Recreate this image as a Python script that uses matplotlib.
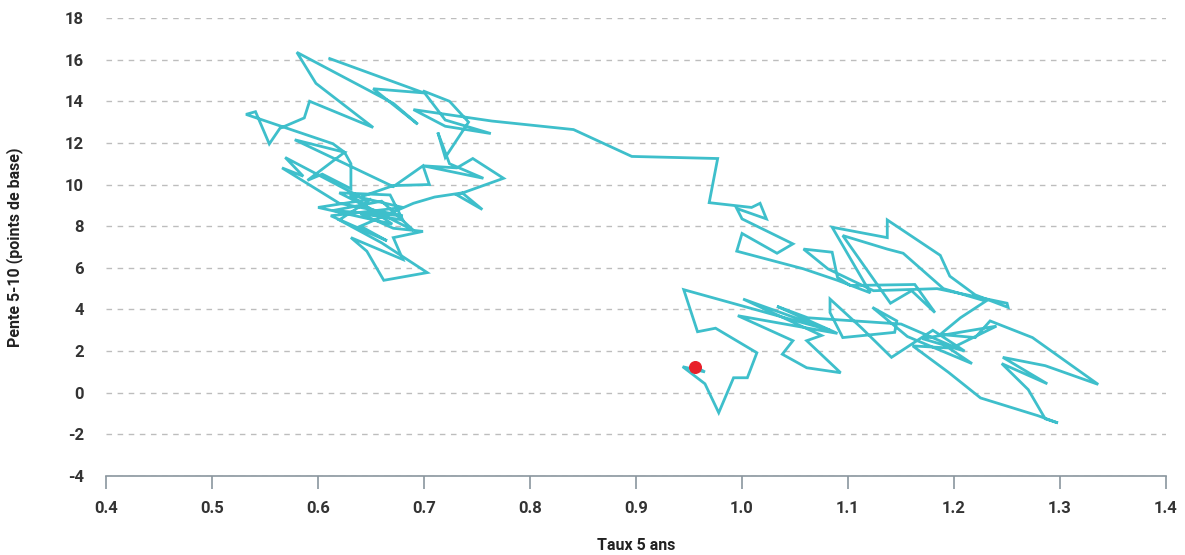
import matplotlib.pyplot as plt

# Taux 5 ans (x) / Pente 5-10 en points de base (y), trajectoire
taux_5a = [
    0.611, 0.700, 0.652, 0.694, 0.671, 0.580, 0.598, 0.652, 0.592, 0.587,
    0.564, 0.554, 0.541, 0.532, 0.614, 0.625, 0.631, 0.631, 0.604, 0.590,
    0.625, 0.578, 0.671, 0.699, 0.705, 0.671, 0.640, 0.569, 0.586, 0.566,
    0.620, 0.680, 0.614, 0.660, 0.690, 0.620, 0.668, 0.680, 0.640, 0.671,
    0.699, 0.671, 0.680, 0.631, 0.646, 0.662, 0.703, 0.660, 0.620, 0.650,
    0.600, 0.670, 0.630, 0.680, 0.612, 0.665, 0.640, 0.690,
    0.710, 0.736, 0.755, 0.731, 0.775, 0.746, 0.731, 0.699, 0.756, 0.724,
    0.713, 0.720, 0.742, 0.724, 0.699, 0.720, 0.763, 0.720, 0.690, 0.764,
    0.841, 0.896, 0.977, 0.969, 1.009, 1.017, 1.023, 0.995, 1.000, 1.048,
    1.033, 1.000, 0.995, 1.058, 1.090, 1.121,
    1.085, 1.137, 1.137, 1.187, 1.196, 1.220, 1.251, 1.250, 1.184, 1.124,
    1.081, 1.058, 1.085, 1.090, 1.102, 1.163, 1.182, 1.160, 1.140, 1.095,
    1.137, 1.152, 1.190, 1.230, 1.206, 1.187, 1.220, 1.234, 1.274, 1.336,
    1.286, 1.246, 1.288, 1.245, 1.270, 1.286, 1.298, 1.279, 1.225, 1.195,
    1.161, 1.195, 1.217, 1.156, 1.123, 1.146, 1.144, 1.095, 1.083, 1.083,
    1.113, 1.141, 1.180, 1.210, 1.170, 1.240, 1.200, 1.150,
    1.062, 1.033, 1.090, 0.996, 1.048, 1.038, 1.061, 1.093,
    1.061, 1.075, 1.001, 1.083, 0.945, 0.958, 0.975, 1.014, 1.005, 0.992,
    0.978, 0.965, 0.944, 0.965, 0.956,
]
pente_5_10 = [
    16.05, 14.40, 14.60, 12.90, 13.90, 16.35, 14.86, 12.74, 14.00, 13.20,
    12.70, 11.95, 13.50, 13.37, 11.96, 11.55, 11.00, 9.80, 10.50, 10.20,
    11.55, 12.15, 9.90, 10.90, 10.00, 9.95, 9.40, 11.30, 10.40, 10.80,
    9.10, 8.50, 8.75, 9.20, 7.80, 9.60, 9.50, 8.30, 8.60, 7.90,
    7.75, 7.45, 6.40, 7.45, 6.80, 5.40, 5.77, 7.20, 8.30, 9.30,
    8.90, 8.10, 9.50, 8.90, 8.50, 7.30, 8.00, 9.10,
    9.40, 9.60, 8.80, 9.50, 10.30, 11.25, 10.80, 10.90, 10.30, 11.00,
    12.50, 11.30, 13.00, 14.00, 14.50, 13.10, 12.45, 12.80, 13.60, 13.05,
    12.64, 11.35, 11.25, 9.13, 8.90, 9.10, 8.35, 8.85, 8.35, 7.15,
    6.70, 7.65, 6.80, 5.95, 5.40, 4.80,
    7.95, 7.45, 8.30, 6.60, 5.60, 4.70, 4.10, 4.30, 5.00, 4.90,
    5.95, 6.90, 6.75, 5.55, 5.15, 5.20, 3.85, 4.90, 4.30, 7.55,
    6.90, 6.70, 5.00, 4.40, 3.60, 2.80, 2.65, 3.45, 2.65, 0.40,
    1.30, 1.70, 0.43, 1.40, 0.15, -1.25, -1.45, -1.10, -0.25, 0.97,
    2.25, 2.15, 1.40, 2.70, 4.10, 3.45, 2.90, 2.65, 3.85, 4.50,
    3.10, 1.70, 3.00, 2.00, 2.60, 3.20, 2.20, 3.30,
    3.60, 4.15, 2.85, 3.70, 2.50, 1.85, 1.20, 0.96,
    2.50, 2.75, 4.50, 3.00, 4.95, 2.93, 3.10, 1.92, 0.72, 0.72,
    -0.96, 0.43, 1.25, 1.00, 1.25,
]

x_ticks = [0.4, 0.5, 0.6, 0.7, 0.8, 0.9, 1.0, 1.1, 1.2, 1.3, 1.4]
y_ticks = [-4, -2, 0, 2, 4, 6, 8, 10, 12, 14, 16, 18]

plt.rcParams['font.family'] = ['Roboto', 'DejaVu Sans']
plt.rcParams['axes.unicode_minus'] = False

fig = plt.figure(figsize=(11.85, 5.55), dpi=100)
ax = fig.add_axes([0.0895, 0.1423, 0.8945, 0.8253])

ax.plot(taux_5a, pente_5_10, color='#3EBFCB', lw=2.0, solid_joinstyle='miter', zorder=3)
ax.scatter([taux_5a[-1]], [pente_5_10[-1]], s=70, color='#E8202A', zorder=4)

ax.set_xlim(0.4, 1.4)
ax.set_ylim(-4, 18)
ax.set_xticks(x_ticks)
ax.set_xticklabels([f"{v:.1f}" for v in x_ticks])
ax.set_yticks(y_ticks)

for s in ['top', 'right', 'left']:
    ax.spines[s].set_visible(False)
ax.spines['bottom'].set_color('#8A969E')
ax.spines['bottom'].set_linewidth(1.2)

ax.yaxis.grid(True, linestyle=(0, (4, 4)), color='#BDBDBD', lw=1.0)
ax.set_axisbelow(True)

ax.tick_params(axis='x', length=9, width=1.2, color='#8A969E', pad=9,
               labelsize=12, labelcolor='#333333')
ax.tick_params(axis='y', length=0, pad=16, labelsize=12, labelcolor='#333333')
for lab in ax.get_xticklabels() + ax.get_yticklabels():
    lab.set_fontweight('bold')

ax.set_xlabel('Taux 5 ans', fontsize=11.5, fontweight='bold', color='#222222', labelpad=16)
ax.set_ylabel('Pente 5-10 (points de base)', fontsize=11.5, fontweight='bold',
              color='#222222', labelpad=30)

fig.savefig('out.png', dpi=100)
